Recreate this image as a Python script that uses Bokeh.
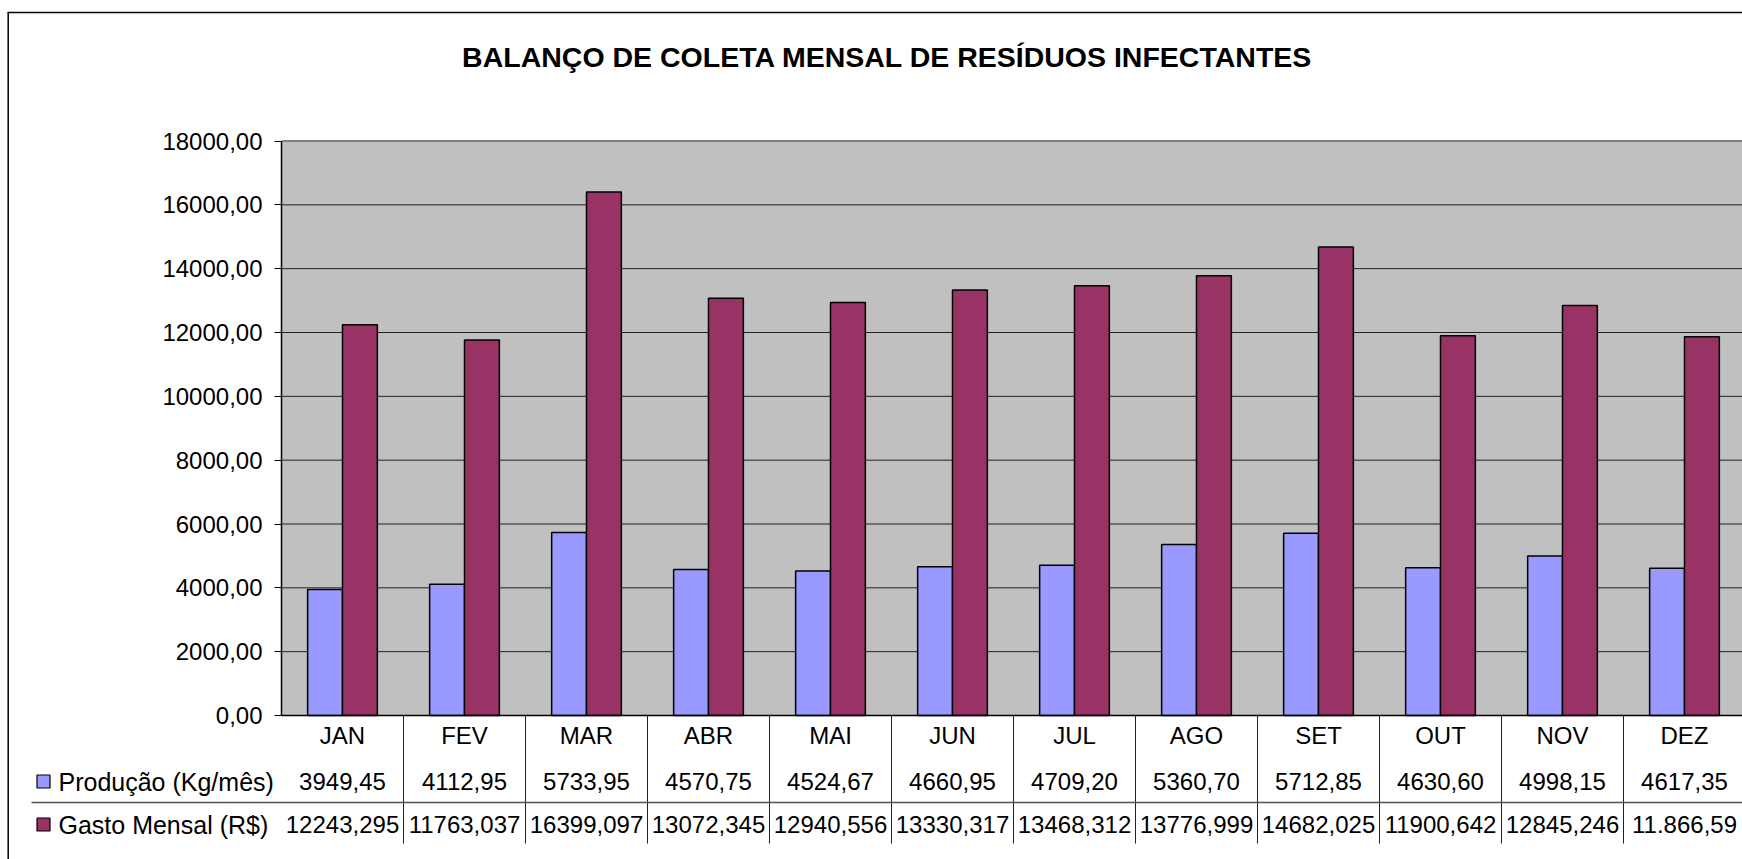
from bokeh.plotting import figure
from bokeh.models import Range1d, LinearAxis, FixedTicker, CustomJSTickFormatter
from bokeh.core.properties import value
from bokeh.embed import file_html
from bokeh.resources import INLINE

# ---------------- data ----------------
months = ["JAN", "FEV", "MAR", "ABR", "MAI", "JUN", "JUL", "AGO", "SET", "OUT", "NOV", "DEZ"]
producao = [3949.45, 4112.95, 5733.95, 4570.75, 4524.67, 4660.95,
            4709.20, 5360.70, 5712.85, 4630.60, 4998.15, 4617.35]
gasto = [12243.295, 11763.037, 16399.097, 13072.345, 12940.556, 13330.317,
         13468.312, 13776.999, 14682.025, 11900.642, 12845.246, 11866.59]
producao_labels = ["3949,45", "4112,95", "5733,95", "4570,75", "4524,67", "4660,95",
                   "4709,20", "5360,70", "5712,85", "4630,60", "4998,15", "4617,35"]
gasto_labels = ["12243,295", "11763,037", "16399,097", "13072,345", "12940,556", "13330,317",
                "13468,312", "13776,999", "14682,025", "11900,642", "12845,246", "11.866,59"]
series_names = ["Produção (Kg/mês)", "Gasto Mensal (R$)"]
y_ticks = [0, 2000, 4000, 6000, 8000, 10000, 12000, 14000, 16000, 18000]
title = "BALANÇO DE COLETA MENSAL DE RESÍDUOS INFECTANTES"

# ---------------- layout ----------------
W, H = 1742, 859
OFF = 0
CAT_LEFT = 281.0
CAT_W = 122.0
Y0_PX = 715.0
YTOP_PX = 140.5
K = 18000.0 / (Y0_PX - YTOP_PX)


def X(px):
    return (px - CAT_LEFT) / CAT_W


def Y(py):
    return (Y0_PX - py) * K


FONT = value("Liberation Sans")
BLUE = "#9999FF"
MAROON = "#993366"
n = len(months)
centers = [i + 0.5 for i in range(n)]
bw = 1.0 / 3.5

p = figure(width=W, height=H,
           x_range=Range1d(X(OFF), X(OFF + W)),
           y_range=Range1d(Y(OFF + H), Y(OFF)),
           x_axis_type=None, y_axis_type=None,
           toolbar_location=None, output_backend="svg",
           min_border=0, min_border_left=0, min_border_right=0,
           min_border_top=0, min_border_bottom=0,
           outline_line_color=None,
           background_fill_color="white", border_fill_color="white")

# plot area
p.quad(left=0, right=n, bottom=y_ticks[0], top=y_ticks[-1],
       fill_color="#C0C0C0", line_color=None)
mid = y_ticks[1:-1]
p.segment(x0=[0] * len(mid), x1=[n] * len(mid), y0=mid, y1=mid,
          line_color="#202020", line_width=1)
p.segment(x0=[0], x1=[n], y0=[y_ticks[-1]], y1=[y_ticks[-1]],
          line_color="#808080", line_width=2)

# bars
p.vbar(x=[c - bw / 2 for c in centers], width=bw, top=producao, bottom=0,
       fill_color=BLUE, line_color="black", line_width=1.5)
p.vbar(x=[c + bw / 2 for c in centers], width=bw, top=gasto, bottom=0,
       fill_color=MAROON, line_color="black", line_width=1.5)

# category axis line
p.segment(x0=[0], x1=[n], y0=[0], y1=[0], line_color="black", line_width=1.5)

# y axis
yax = LinearAxis(fixed_location=0, bounds=(y_ticks[0], y_ticks[-1]),
                 ticker=FixedTicker(ticks=y_ticks),
                 formatter=CustomJSTickFormatter(code="return tick.toFixed(2).replace('.', ',');"))
yax.axis_line_color = "black"
yax.axis_line_width = 1.5
yax.major_tick_out = 7
yax.major_tick_in = 0
yax.major_tick_line_color = "black"
yax.minor_tick_out = 0
yax.minor_tick_in = 0
yax.major_label_standoff = 12
yax.major_label_text_font = "Liberation Sans"
yax.major_label_text_font_size = "24px"
yax.major_label_text_color = "black"
p.add_layout(yax, "left")

# data table
p.segment(x0=list(range(1, n)), x1=list(range(1, n)), y0=[0] * (n - 1), y1=[Y(843)] * (n - 1),
          line_color="#202020", line_width=1)
p.segment(x0=[X(31)], x1=[n], y0=[Y(802)], y1=[Y(802)], line_color="#505050", line_width=1.5)

row_cat, row_p, row_g = Y(735), Y(781), Y(824)
p.text(x=centers, y=[row_cat] * n, text=months, text_font=FONT, text_font_size="24px",
       text_align="center", text_baseline="middle", text_color="black")
p.text(x=centers, y=[row_p] * n, text=producao_labels, text_font=FONT, text_font_size="24px",
       text_align="center", text_baseline="middle", text_color="black")
p.text(x=centers, y=[row_g] * n, text=gasto_labels, text_font=FONT, text_font_size="24px",
       text_align="center", text_baseline="middle", text_color="black")

p.scatter(x=[X(43), X(43)], y=[row_p, row_g], marker="square", size=13,
          fill_color=[BLUE, MAROON], line_color="black", line_width=1.2)
p.text(x=[X(58), X(58)], y=[row_p, row_g], text=series_names, text_font=FONT,
       text_font_size="25px", text_align="left", text_baseline="middle", text_color="black")

# title
p.text(x=[X(887)], y=[Y(56)], text=[title], text_font=FONT, text_font_size="28.5px",
       text_font_style="bold", text_align="center", text_baseline="middle", text_color="black")

# outer chart border (left and top)
p.segment(x0=[X(7.7)], x1=[X(7.7)], y0=[Y(12)], y1=[Y(OFF + H + 5)],
          line_color="black", line_width=1.5)
p.segment(x0=[X(7)], x1=[X(OFF + W + 5)], y0=[Y(12)], y1=[Y(12)],
          line_color="black", line_width=1.5)

open("out.html", "w").write(file_html(p, INLINE))
